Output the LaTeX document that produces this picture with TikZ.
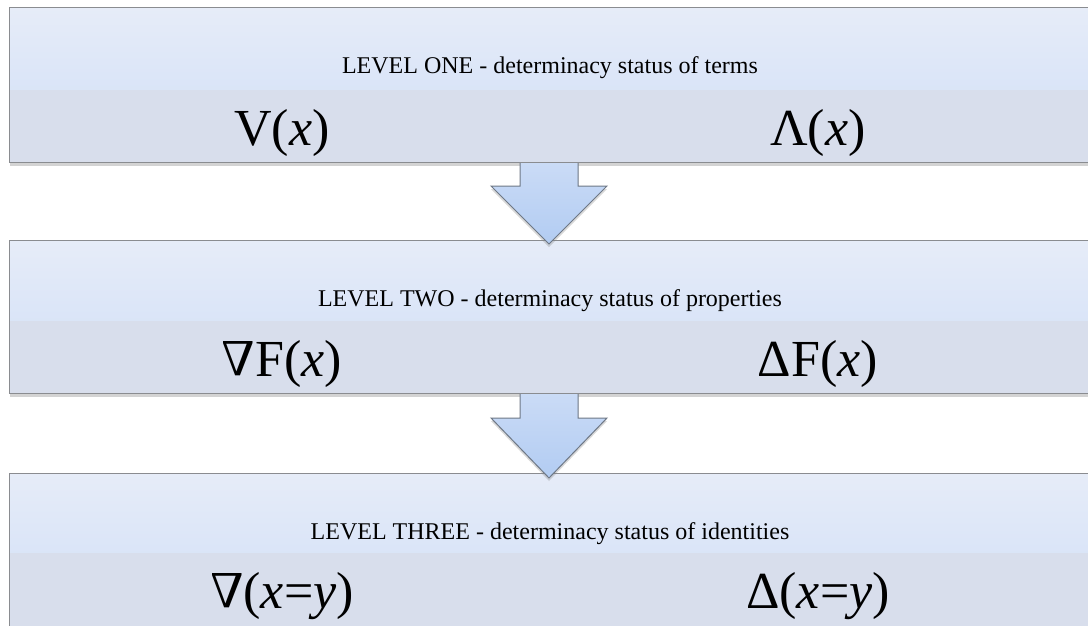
\documentclass[tikz,border=0pt]{standalone}
\usepackage{fontspec}
\setmainfont{Liberation Serif}
\usepackage{graphicx}
\usetikzlibrary{shadows,calc}
\definecolor{bandtop}{HTML}{E6ECF8}
\definecolor{bandmid}{HTML}{CFDEF7}
\definecolor{bandlow}{HTML}{D8DEEC}
\definecolor{boxline}{HTML}{8A8C90}
\definecolor{arrtop}{HTML}{CADBF6}
\definecolor{arrbot}{HTML}{B2CCF2}
\definecolor{arrline}{HTML}{6E7886}
\newcommand{\nablasym}{\raisebox{\depth}{\scalebox{1}[-1]{Δ}}}
\begin{document}
\begin{tikzpicture}[x=1pt,y=1pt,
  lvl/.style 2 args={draw=boxline, line width=1pt, inner sep=0pt, anchor=north west,
    minimum width=1090pt, minimum height=#1, fill=bandlow,
    drop shadow={opacity=0.35, shadow xshift=0pt, shadow yshift=-3pt},
    path picture={\shade[top color=bandtop, bottom color=bandmid]
      (path picture bounding box.north west) rectangle
      ([yshift=-#2]path picture bounding box.north east);}},
  title/.style={anchor=base, font=\fontsize{24}{28}\selectfont, inner sep=0pt},
  big/.style={anchor=base, font=\fontsize{52}{60}\selectfont, inner sep=0pt},
  flow/.style={draw=arrline, line width=1pt, top color=arrtop, bottom color=arrbot,
    line join=miter,
    drop shadow={opacity=0.3, shadow xshift=0pt, shadow yshift=-3pt}}
]
\useasboundingbox (0,0) rectangle (1088,-625);

\node[lvl={155pt}{82pt}] (L1) at (9,-7) {};
\node[lvl={153pt}{80pt}] (L2) at (9,-240) {};
\node[lvl={154pt}{79pt}] (L3) at (9,-473) {};

\node[title] (t1) at (550,-73) {LEVEL ONE - determinacy status of terms};
\node[big] (v1) at (282,-145) {V(\textit{x})};
\node[big] (l1) at (818,-145) {Λ(\textit{x})};

\node[title] (t2) at (550,-306) {LEVEL TWO - determinacy status of properties};
\node[big] (v2) at (282,-376) {\nablasym F(\textit{x})};
\node[big] (l2) at (818,-376) {ΔF(\textit{x})};

\node[title] (t3) at (550,-539) {LEVEL THREE - determinacy status of identities};
\node[big] (v3) at (282,-608) {\nablasym(\textit{x}=\textit{y})};
\node[big] (l3) at (818,-608) {Δ(\textit{x}=\textit{y})};

\coordinate (a1) at (L1.south -| 549,0);
\coordinate (a2) at (L2.south -| 549,0);
\draw[flow] ($(a1)+(-29,0)$) -- ($(a1)+(-29,-23)$) -- ($(a1)+(-58,-23)$)
  -- ($(a1)+(0,-81)$) -- ($(a1)+(58,-23)$) -- ($(a1)+(29,-23)$) -- ($(a1)+(29,0)$);
\draw[flow] ($(a2)+(-29,0)$) -- ($(a2)+(-29,-24)$) -- ($(a2)+(-58,-24)$)
  -- ($(a2)+(0,-84)$) -- ($(a2)+(58,-24)$) -- ($(a2)+(29,-24)$) -- ($(a2)+(29,0)$);
\end{tikzpicture}
\end{document}
